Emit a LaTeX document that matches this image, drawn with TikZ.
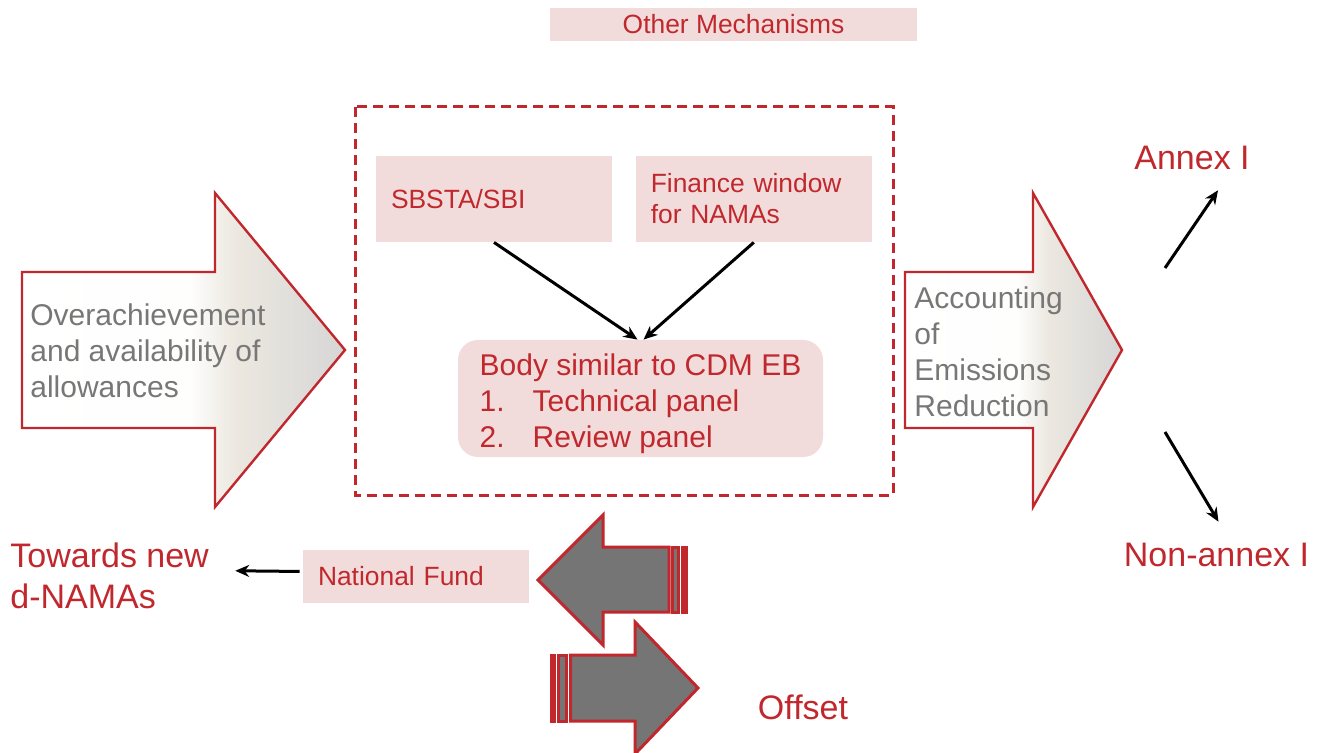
\documentclass[tikz,border=0pt]{standalone}
\usepackage{fontspec}
\setmainfont{Liberation Sans}
\usetikzlibrary{arrows.meta,positioning,calc}
\definecolor{mechred}{HTML}{C0282D}
\definecolor{boxpink}{HTML}{F2DCDB}
\definecolor{textgray}{HTML}{777777}
\definecolor{arrowgray}{HTML}{757575}
\definecolor{shadebeige}{HTML}{ECE8E0}
\definecolor{shadegray}{HTML}{D6D6D6}
\colorlet{shadelight}{white!94!shadebeige}
\pgfdeclarehorizontalshading{bigarrowshade}{100bp}{color(0bp)=(white); color(25bp)=(white);
  color(51bp)=(shadelight); color(58bp)=(shadebeige); color(75bp)=(shadegray); color(100bp)=(shadegray)}

\begin{document}
\begin{tikzpicture}[x=0.5pt, y=-0.5pt,
    pinkbox/.style={fill=boxpink, text=mechred, inner ysep=0pt,
                    font=\fontsize{13.2}{15.5}\selectfont},
    bodybox/.style={fill=boxpink, text=mechred, rounded corners=10pt,
                    minimum width=182.5pt, minimum height=58.5pt, inner ysep=1.5pt,
                    align=left, font=\fontsize{15}{18}\selectfont},
    arr/.style={-{Stealth[length=7pt, width=6pt]}, line width=1.5pt, black},
    bigarrow/.style={draw=mechred, line width=1.2pt, shading=bigarrowshade},
    grayarrow/.style={draw=mechred, line width=1.5pt, fill=arrowgray},
    graytext/.style={text=textgray, font=\fontsize{15}{18}\selectfont,
                     align=left, inner sep=0pt, anchor=west},
    redlabel/.style={text=mechred, font=\fontsize{17}{20.5}\selectfont,
                     inner sep=0pt, align=left}
  ]
    \useasboundingbox (0,0) rectangle (1322,753);
    \clip (0,0) rectangle (1322,753);

    % Top label
    \node[pinkbox, minimum width=183.5pt, minimum height=16.5pt] (other)
      at (733.5,24.5) {Other Mechanisms};

    % Dashed frame
    \draw[mechred, line width=1.5pt, dash pattern=on 5pt off 3pt]
      (355,107) rectangle (893,495);

    % Inputs and body
    \node[pinkbox, minimum width=118pt, minimum height=43pt, text width=103pt,
          inner xsep=7.5pt, align=left] (sbsta) at (494,199) {SBSTA/SBI};
    \node[pinkbox, minimum width=118pt, minimum height=43pt, text width=103pt,
          inner xsep=7.5pt, align=left, right=11.5pt of sbsta] (finance)
      {Finance window\\for NAMAs};
    \node[bodybox] (body) at (640.5,398.5)
      {\rule{0pt}{16pt}Body similar to CDM EB\\
       \makebox[26.5pt][l]{1.}Technical panel\\
       \makebox[26.5pt][l]{2.}Review panel};

    \foreach \a/\s in {sbsta/-1.5pt, finance/1.5pt}
      \draw[arr] (\a.south) -- ([xshift=\s]body.north);

    % Big arrows
    \draw[bigarrow] (22,272) -- (215,272) -- (215,193) -- (345,350)
      -- (215,507) -- (215,428) -- (22,428) -- cycle;
    \node[graytext] (over) at (30,351)
      {Overachievement\\and availability of\\allowances};

    \draw[bigarrow] (905,272) -- (1033,272) -- (1033,193) -- (1122,350)
      -- (1033,507) -- (1033,428) -- (905,428) -- cycle;
    \node[graytext] (account) at (914,351.5)
      {Accounting\\of\\Emissions\\Reduction};

    % Annex split
    \node[redlabel] (annex) at (1192,158) {Annex I};
    \node[redlabel] (nonannex) at (1216.5,555) {Non-annex I};
    \coordinate (up0) at (1165,268);
    \coordinate (down0) at (1165,432);
    \draw[arr] (up0) -- ([xshift=13pt, yshift=-10pt]annex.south);
    \draw[arr] (down0) -- ([xshift=1pt, yshift=10.5pt]nonannex.north);

    % Fund
    \node[redlabel, anchor=west] (towards) at (10,575.5) {Towards new\\d-NAMAs};
    \node[pinkbox, minimum width=113pt, minimum height=26.5pt, text width=98pt,
          inner xsep=7.5pt, align=left] (fund) at (416,576.5) {National Fund};
    \draw[arr, shorten >=13pt, shorten <=1.5pt]
      ([yshift=2.5pt]fund.west) -- ([yshift=2.5pt]towards.east);

    % Gray striped arrows
    \draw[grayarrow] (669,547) -- (603,547) -- (603,515) -- (538,580)
      -- (603,645) -- (603,612) -- (669,612) -- cycle;
    \draw[grayarrow] (672,547) rectangle (678.5,612);
    \draw[grayarrow, fill=mechred] (682,547) rectangle (686,612);

    \draw[grayarrow] (570.5,655) -- (635,655) -- (635,622) -- (698,688)
      -- (635,754) -- (635,721) -- (570.5,721) -- cycle;
    \draw[grayarrow] (558.5,655) rectangle (566,721);
    \draw[grayarrow, fill=mechred] (551,655) rectangle (554.5,721);

    \node[redlabel] (offset) at (803,707) {Offset};
\end{tikzpicture}
\end{document}
